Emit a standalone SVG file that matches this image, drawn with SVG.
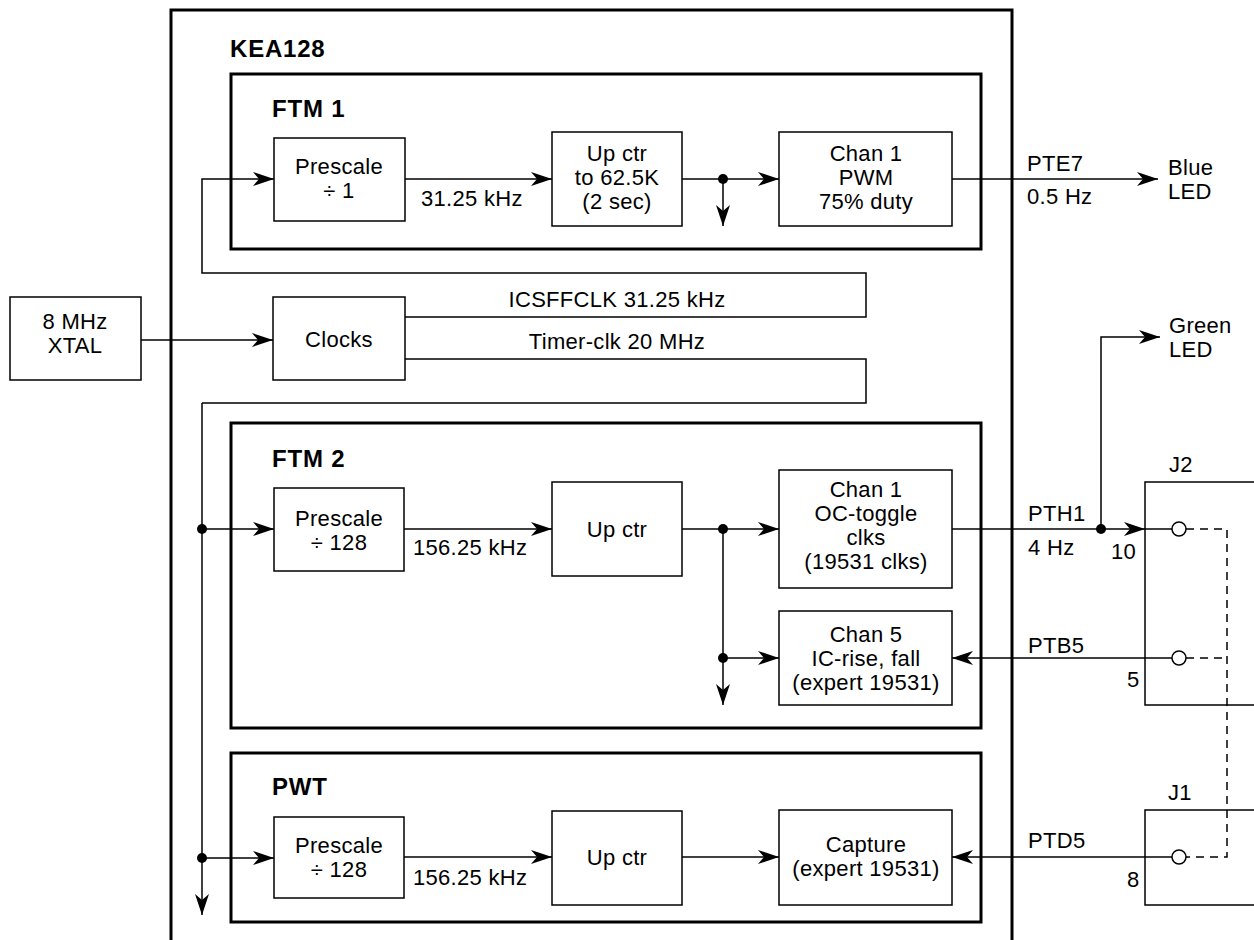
<svg xmlns="http://www.w3.org/2000/svg" width="1254" height="940" viewBox="0 0 1254 940">
<style>
text{font-family:"Liberation Sans",Arial,sans-serif;font-size:22px;fill:#000;letter-spacing:0.3px}
.b{font-weight:bold;font-size:24px;letter-spacing:0.8px}
.c{text-anchor:middle}
.thick{fill:none;stroke:#000;stroke-width:3}
.box{fill:#fff;stroke:#000;stroke-width:1.5}
.ln{fill:none;stroke:#000;stroke-width:1.5}
.arr{fill:none;stroke:#000;stroke-width:1.5;marker-end:url(#ah)}
.dash{fill:none;stroke:#000;stroke-width:1.5;stroke-dasharray:8 6}
.dot{fill:#000}
.pin{fill:#fff;stroke:#000;stroke-width:1.5}
</style>
<defs>
<marker id="ah" markerUnits="userSpaceOnUse" markerWidth="24" markerHeight="16" viewBox="-22 -8 24 16" refX="0" refY="0" orient="auto">
<path d="M0,0 L-21,-7 L-15,0 L-21,7 Z" fill="#000"/>
</marker>
</defs>
<rect width="1254" height="940" fill="#fff"/>

<g id="kea128">
<path class="thick" d="M171,942 V10 H1012 V942"/>
<text class="b" x="230" y="57">KEA128</text>
</g>
<g id="ftm1">
<rect class="thick" x="231" y="74" width="750" height="175"/>
<text class="b" x="272" y="117">FTM 1</text>
</g>
<g id="ftm2">
<rect class="thick" x="231" y="423" width="750" height="305"/>
<text class="b" x="272" y="467">FTM 2</text>
</g>
<g id="pwt">
<rect class="thick" x="231" y="753" width="750" height="169"/>
<text class="b" x="272" y="795">PWT</text>
</g>

<g id="connectors">
<path class="ln" d="M141,340 H171"/>
<path class="arr" d="M171,340 H273"/>
<path class="ln" d="M405,317 H866 V273 H202 V179 H231"/>
<path class="arr" d="M231,179 H274"/>
<path class="arr" d="M405,179 H552"/>
<path class="ln" d="M682,179 H723"/>
<path class="arr" d="M723,179 H779"/>
<path class="arr" d="M723,179 V226"/>
<path class="arr" d="M952,179 H1158"/>
<path class="ln" d="M405,359 H866 V403 H202"/>
<path class="arr" d="M202,403 V915"/>
<path class="arr" d="M202,529 H274"/>
<path class="arr" d="M404,529 H552"/>
<path class="ln" d="M682,529 H723"/>
<path class="arr" d="M723,529 H779"/>
<path class="arr" d="M723,529 V705"/>
<path class="arr" d="M723,658 H779"/>
<path class="arr" d="M952,529 H1145"/>
<path class="ln" d="M1145,529 H1172"/>
<path class="arr" d="M1101,529 V337 H1160"/>
<path class="arr" d="M1172,658 H952"/>
<path class="arr" d="M202,858 H274"/>
<path class="arr" d="M404,857 H552"/>
<path class="arr" d="M682,857 H779"/>
<path class="arr" d="M1172,857 H952"/>
<path class="dash" d="M1186,529 H1227 V857 H1186"/>
<path class="dash" d="M1186,658 H1227"/>
<circle class="dot" cx="723" cy="179" r="5"/>
<circle class="dot" cx="202" cy="529" r="5"/>
<circle class="dot" cx="723" cy="529" r="5"/>
<circle class="dot" cx="723" cy="658" r="5"/>
<circle class="dot" cx="1101" cy="529" r="5"/>
<circle class="dot" cx="202" cy="858" r="5"/>
<text x="421" y="206">31.25 kHz</text>
<text x="1027" y="171">PTE7</text>
<text x="1027" y="204">0.5 Hz</text>
<text class="c" x="617" y="307">ICSFFCLK 31.25 kHz</text>
<text class="c" x="617" y="349">Timer-clk 20 MHz</text>
<text x="413" y="555">156.25 kHz</text>
<text x="1028" y="521">PTH1</text>
<text x="1028" y="555">4 Hz</text>
<text x="1028" y="653">PTB5</text>
<text x="413" y="885">156.25 kHz</text>
<text x="1028" y="848">PTD5</text>
</g>

<g id="xtal">
<rect class="box" x="10" y="297" width="131" height="83"/>
<text class="c" x="75" y="329">8 MHz</text>
<text class="c" x="75" y="353">XTAL</text>
</g>
<g id="clocks">
<rect class="box" x="273" y="297" width="132" height="83"/>
<text class="c" x="339" y="347">Clocks</text>
</g>
<g id="ftm1-prescale">
<rect class="box" x="274" y="138" width="131" height="83"/>
<text class="c" x="339" y="174">Prescale</text>
<text class="c" x="339" y="198">÷ 1</text>
</g>
<g id="ftm1-upctr">
<rect class="box" x="552" y="132" width="130" height="94"/>
<text class="c" x="617" y="161">Up ctr</text>
<text class="c" x="617" y="185">to 62.5K</text>
<text class="c" x="617" y="209">(2 sec)</text>
</g>
<g id="ftm1-chan1">
<rect class="box" x="779" y="132" width="173" height="94"/>
<text class="c" x="866" y="161">Chan 1</text>
<text class="c" x="866" y="185">PWM</text>
<text class="c" x="866" y="209">75% duty</text>
</g>
<g id="blue-led">
<text x="1168" y="175">Blue</text>
<text x="1168" y="199">LED</text>
</g>
<g id="green-led">
<text x="1169" y="333">Green</text>
<text x="1169" y="357">LED</text>
</g>
<g id="ftm2-prescale">
<rect class="box" x="274" y="488" width="130" height="83"/>
<text class="c" x="339" y="526">Prescale</text>
<text class="c" x="339" y="550">÷ 128</text>
</g>
<g id="ftm2-upctr">
<rect class="box" x="552" y="482" width="130" height="94"/>
<text class="c" x="617" y="537">Up ctr</text>
</g>
<g id="ftm2-chan1">
<rect class="box" x="779" y="470" width="173" height="118"/>
<text class="c" x="866" y="497">Chan 1</text>
<text class="c" x="866" y="521">OC-toggle</text>
<text class="c" x="866" y="545">clks</text>
<text class="c" x="866" y="569">(19531 clks)</text>
</g>
<g id="ftm2-chan5">
<rect class="box" x="779" y="611" width="173" height="94"/>
<text class="c" x="866" y="642">Chan 5</text>
<text class="c" x="866" y="666">IC-rise, fall</text>
<text class="c" x="866" y="690">(expert 19531)</text>
</g>
<g id="pwt-prescale">
<rect class="box" x="274" y="817" width="130" height="81"/>
<text class="c" x="339" y="853">Prescale</text>
<text class="c" x="339" y="877">÷ 128</text>
</g>
<g id="pwt-upctr">
<rect class="box" x="552" y="811" width="130" height="94"/>
<text class="c" x="617" y="865">Up ctr</text>
</g>
<g id="pwt-capture">
<rect class="box" x="779" y="810" width="173" height="95"/>
<text class="c" x="866" y="852">Capture</text>
<text class="c" x="866" y="876">(expert 19531)</text>
</g>
<g id="j2">
<path class="ln" d="M1260,482 H1145 V705 H1260"/>
<text x="1169" y="472">J2</text>
<circle class="pin" cx="1179" cy="529" r="7"/>
<circle class="pin" cx="1179" cy="658" r="7"/>
<text x="1111" y="559">10</text>
<text x="1127" y="687">5</text>
</g>
<g id="j1">
<path class="ln" d="M1260,810 H1145 V905 H1260"/>
<text x="1168" y="800">J1</text>
<circle class="pin" cx="1179" cy="857" r="7"/>
<text x="1127" y="887">8</text>
</g>
</svg>
